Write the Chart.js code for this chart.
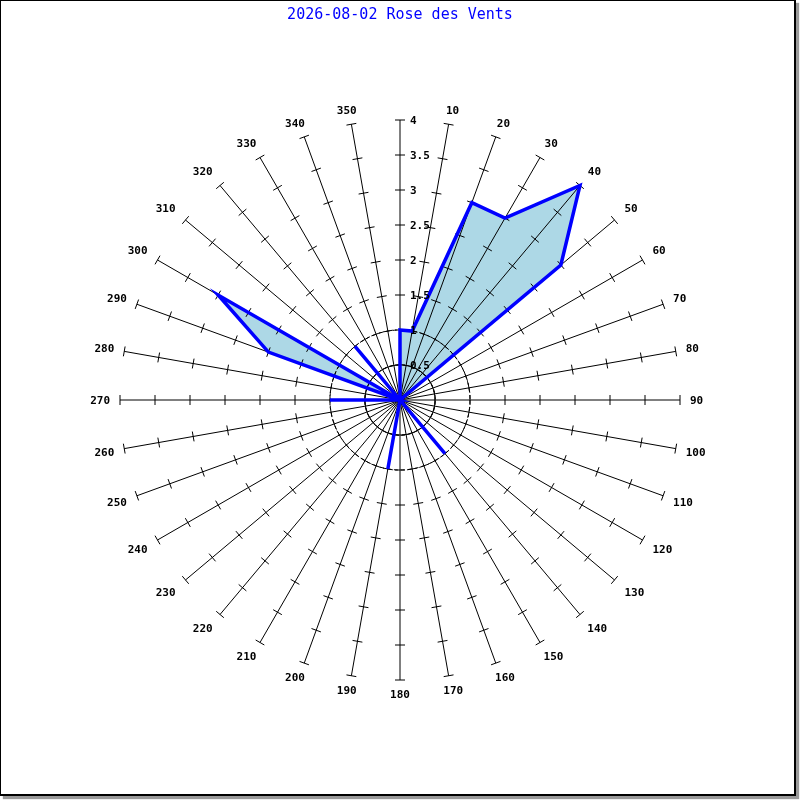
<!DOCTYPE html>
<html>
<head>
<meta charset="utf-8">
<script src="https://cdn.jsdelivr.net/npm/chart.js@4/dist/chart.umd.min.js"></script>
<style>
  body { margin: 0; background: #fff; }
  #frame {
    position: absolute; left: 0; top: 0;
    width: 796px; height: 796px; box-sizing: border-box;
    border: 1px solid #000; border-right-width: 2px; border-bottom-width: 2px;
    box-shadow: 3px 3px 1px #999; background: #fff;
  }
  #rose { position: absolute; left: 0; top: 0; }
</style>
</head>
<body>
<div id="frame"></div>
<canvas id="rose" width="800" height="800"></canvas>
<script>
// directions in degrees, one spoke each
var directions = [0, 10, 20, 30, 40, 50, 60, 70, 80, 90, 100, 110,
                  120, 130, 140, 150, 160, 170, 180, 190, 200, 210, 220, 230,
                  240, 250, 260, 270, 280, 290, 300, 310, 320, 330, 340, 350];
// value read for each direction
var vents = [1, 1, 3, 3, 4, 3, 0, 0, 0, 0, 0, 0,
             0, 0, 1, 0, 0, 0, 0, 1, 0, 0, 0, 0,
             0, 0, 0, 1, 0, 2, 3, 0, 1, 0, 0, 0];
var echelleMax = 4;
var echellePas = 0.5;
var cerclesPointilles = [0.5, 1];
var titre = "2026-08-02 Rose des Vents";

var police = "'DejaVu Sans Mono', 'Liberation Mono', monospace";

// ticks across every spoke + axis labels, drawn from the radial scale
var roseDeco = {
    id: 'roseDeco',
    beforeDatasetsDraw: function(chart) {
        var sc = chart.scales.r;
        var ctx = chart.ctx;
        ctx.save();
        ctx.strokeStyle = '#000';
        ctx.lineWidth = 1;
        for (var i = 0; i < directions.length; i++) {
            var a = sc.getIndexAngle(i) - Math.PI / 2;
            var nx = -Math.sin(a), ny = Math.cos(a);
            sc.ticks.forEach(function(t) {
                if (t.value <= 0) return;
                var p = sc.getPointPositionForValue(i, t.value);
                ctx.beginPath();
                ctx.moveTo(p.x - 5 * nx, p.y - 5 * ny);
                ctx.lineTo(p.x + 5 * nx, p.y + 5 * ny);
                ctx.stroke();
            });
        }
        ctx.restore();
    },
    afterDatasetsDraw: function(chart) {
        var sc = chart.scales.r;
        var ctx = chart.ctx;
        ctx.save();
        ctx.font = 'bold 11px ' + police;
        ctx.fillStyle = '#000';
        // scale values along the north spoke
        ctx.textAlign = 'left';
        ctx.textBaseline = 'middle';
        sc.ticks.forEach(function(t) {
            if (t.value <= 0) return;
            var p = sc.getPointPositionForValue(0, t.value);
            ctx.fillText(String(t.value), p.x + 10, p.y + 1);
        });
        // direction labels
        ctx.textAlign = 'center';
        for (var i = 1; i < directions.length; i++) {
            var txt = String(directions[i]);
            var th = sc.getIndexAngle(i);
            var s = Math.sin(th), c = Math.cos(th);
            var end = sc.getPointPosition(i, sc.drawingArea);
            var hw = ctx.measureText(txt).width / 2;
            var dx = Math.sign(Math.round(s * 1000)) * Math.min(1, 1.35 * Math.abs(s)) * (hw + 10);
            var dy = -Math.sign(Math.round(c * 1000)) * Math.min(1, 1.35 * Math.abs(c)) * 14;
            ctx.fillText(txt, end.x + dx, end.y + dy + 1);
        }
        ctx.restore();
    }
};

var rose = new Chart("rose", {
    type: "radar",
    data: {
        labels: directions.map(String),
        datasets: [{
            data: vents,
            borderColor: "#0000ff",
            backgroundColor: "#add8e6",
            borderWidth: 3.5,
            fill: true,
            pointRadius: 0,
            tension: 0
        }]
    },
    options: {
        responsive: false,
        devicePixelRatio: 1,
        animation: false,
        layout: { padding: { left: 120, right: 120, top: 0, bottom: 120 } },
        plugins: {
            legend: { display: false },
            tooltip: { enabled: false },
            filler: { drawTime: 'beforeDraw' },
            title: {
                display: true,
                text: titre,
                color: "#0000ff",
                font: { family: police, size: 15, weight: 'normal' },
                padding: { top: 6, bottom: 96 }
            }
        },
        scales: {
            r: {
                min: 0,
                max: echelleMax,
                ticks: { stepSize: echellePas, display: false },
                pointLabels: { display: false },
                angleLines: { display: true, color: "#000", lineWidth: 1 },
                grid: {
                    circular: true,
                    lineWidth: 1,
                    color: function(c) {
                        return c.tick && cerclesPointilles.indexOf(c.tick.value) >= 0 ? "#000" : "rgba(0,0,0,0)";
                    }
                },
                border: { dash: [4, 3] }
            }
        }
    },
    plugins: [roseDeco]
});
</script>
</body>
</html>
